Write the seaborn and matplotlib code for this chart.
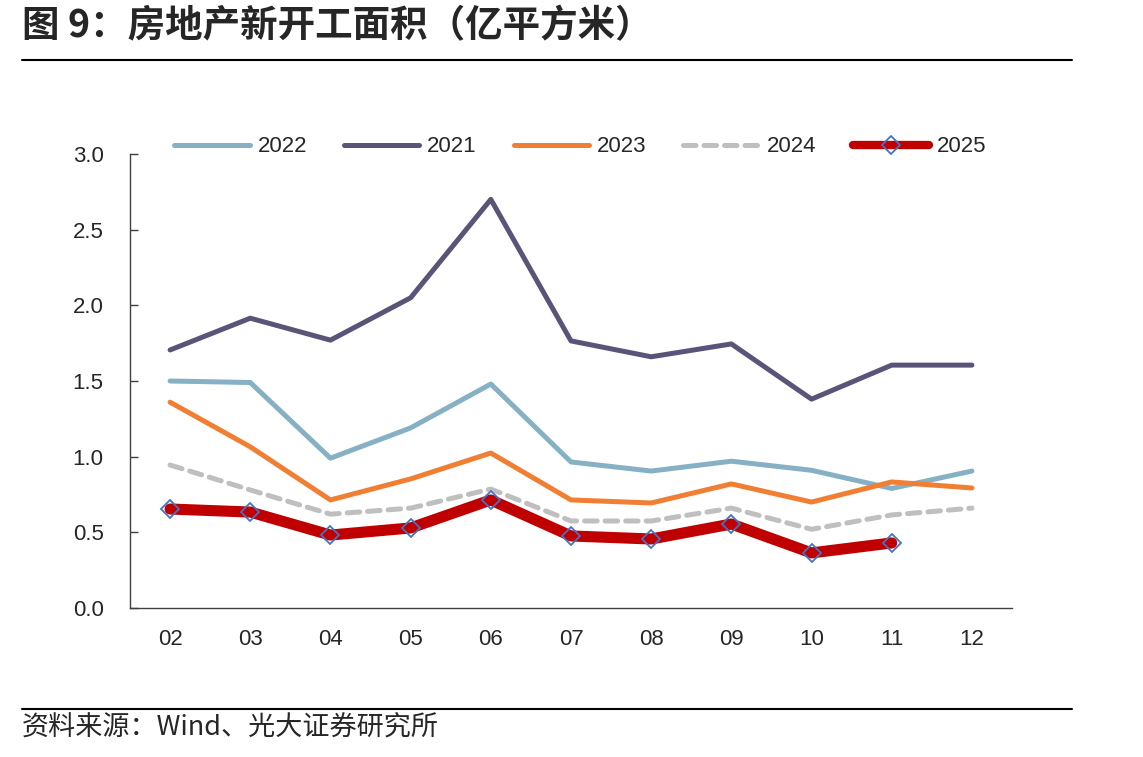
import numpy as np
import pandas as pd
import matplotlib
matplotlib.use("Agg")
import matplotlib.pyplot as plt
import seaborn as sns
from matplotlib.lines import Line2D

months = ["02", "03", "04", "05", "06", "07", "08", "09", "10", "11", "12"]
y2022 = [1.50, 1.49, 0.99, 1.19, 1.48, 0.965, 0.905, 0.97, 0.91, 0.79, 0.905]
y2021 = [1.705, 1.915, 1.77, 2.05, 2.70, 1.765, 1.66, 1.745, 1.38, 1.605, 1.605]
y2023 = [1.36, 1.065, 0.714, 0.853, 1.024, 0.714, 0.694, 0.82, 0.70, 0.833, 0.793]
y2024 = [0.945, 0.78, 0.62, 0.66, 0.786, 0.575, 0.575, 0.66, 0.52, 0.615, 0.66]
y2025 = [0.654, 0.634, 0.482, 0.529, 0.714, 0.476, 0.456, 0.555, 0.364, 0.43]

sns.set_style("white")
plt.rcParams["font.family"] = ["Liberation Sans", "Noto Sans CJK SC"]

df = pd.DataFrame({"pos": np.arange(len(months)), "month": months,
                   "2022": y2022, "2021": y2021, "2023": y2023, "2024": y2024})
df25 = pd.DataFrame({"pos": np.arange(len(y2025)), "2025": y2025})

fig = plt.figure(figsize=(11.43, 7.57), dpi=100)
ax = fig.add_axes([130 / 1143, 1 - 608 / 757, 882 / 1143, 454 / 757])

styles = {
    "2022": dict(color="#86B0C4", lw=3.6),
    "2021": dict(color="#595478", lw=3.6),
    "2023": dict(color="#F07F33", lw=3.6),
    "2024": dict(color="#BFBFBF", lw=3.6, dashes=(2.5, 1.6)),
}
for name, st in styles.items():
    line = dict(st)
    dash = line.pop("dashes", None)
    sns.lineplot(data=df, x="pos", y=name, ax=ax, color=line["color"], lw=line["lw"],
                 solid_capstyle="round", dash_capstyle="round")
    if dash is not None:
        ax.lines[-1].set_dashes(dash)

sns.lineplot(data=df25, x="pos", y="2025", ax=ax, color="#C00000", lw=8,
             solid_capstyle="round", marker="D", markersize=9,
             markerfacecolor="none", markeredgecolor="#4472C4", markeredgewidth=1.3)

ax.set_xlim(-0.5, len(months) - 0.5)
ax.set_ylim(0, 3.0)
ax.set_yticks(np.arange(0, 3.01, 0.5))
ax.set_yticklabels([f"{v:.1f}" for v in np.arange(0, 3.01, 0.5)], fontsize=16)
ax.set_xticks(df["pos"])
ax.set_xticklabels(months, fontsize=16)
ax.set_xticks(np.arange(0.5, len(months), 1), minor=True)
ax.tick_params(axis="x", which="major", length=0, pad=15)
ax.tick_params(axis="x", which="minor", direction="in", length=6, width=1, color="#404040")
ax.tick_params(axis="y", direction="in", length=6, width=1, color="#404040", pad=19, left=True)
ax.set_xlabel("")
ax.set_ylabel("")
for s in ["top", "right"]:
    ax.spines[s].set_visible(False)
for s in ["left", "bottom"]:
    ax.spines[s].set_color("#404040")
    ax.spines[s].set_linewidth(1)

handles = [
    Line2D([], [], color="#86B0C4", lw=3.6, solid_capstyle="round"),
    Line2D([], [], color="#595478", lw=3.6, solid_capstyle="round"),
    Line2D([], [], color="#F07F33", lw=3.6, solid_capstyle="round"),
    Line2D([], [], color="#BFBFBF", lw=3.6, dashes=(2.5, 1.6), dash_capstyle="round"),
    Line2D([], [], color="#C00000", lw=6, solid_capstyle="round", marker="D", markersize=9,
           markerfacecolor="none", markeredgecolor="#4472C4", markeredgewidth=1.3),
]
fig.legend(handles, ["2022", "2021", "2023", "2024", "2025"], loc="center",
           bbox_to_anchor=(580 / 1143, 1 - 147 / 757), ncol=5, frameon=False,
           fontsize=16, handlelength=3.4, columnspacing=1.65, handletextpad=0.36)

fig.text(22 / 1143, 1 - 26 / 757, "图 9：房地产新开工面积（亿平方米）", fontsize=27,
         fontweight="bold", va="center", ha="left",
         family=["Noto Sans CJK SC", "DejaVu Sans"])
fig.add_artist(Line2D([22 / 1143, 1072 / 1143], [1 - 60 / 757, 1 - 60 / 757],
                      color="black", lw=1.5))
fig.add_artist(Line2D([22 / 1143, 1072 / 1143], [1 - 709 / 757, 1 - 709 / 757],
                      color="black", lw=1.5))
fig.text(22 / 1143, 1 - 728 / 757, "资料来源：Wind、光大证券研究所", fontsize=19.5,
         va="center", ha="left", family=["Noto Sans CJK SC", "DejaVu Sans"])

fig.savefig("out.png", dpi=100)
